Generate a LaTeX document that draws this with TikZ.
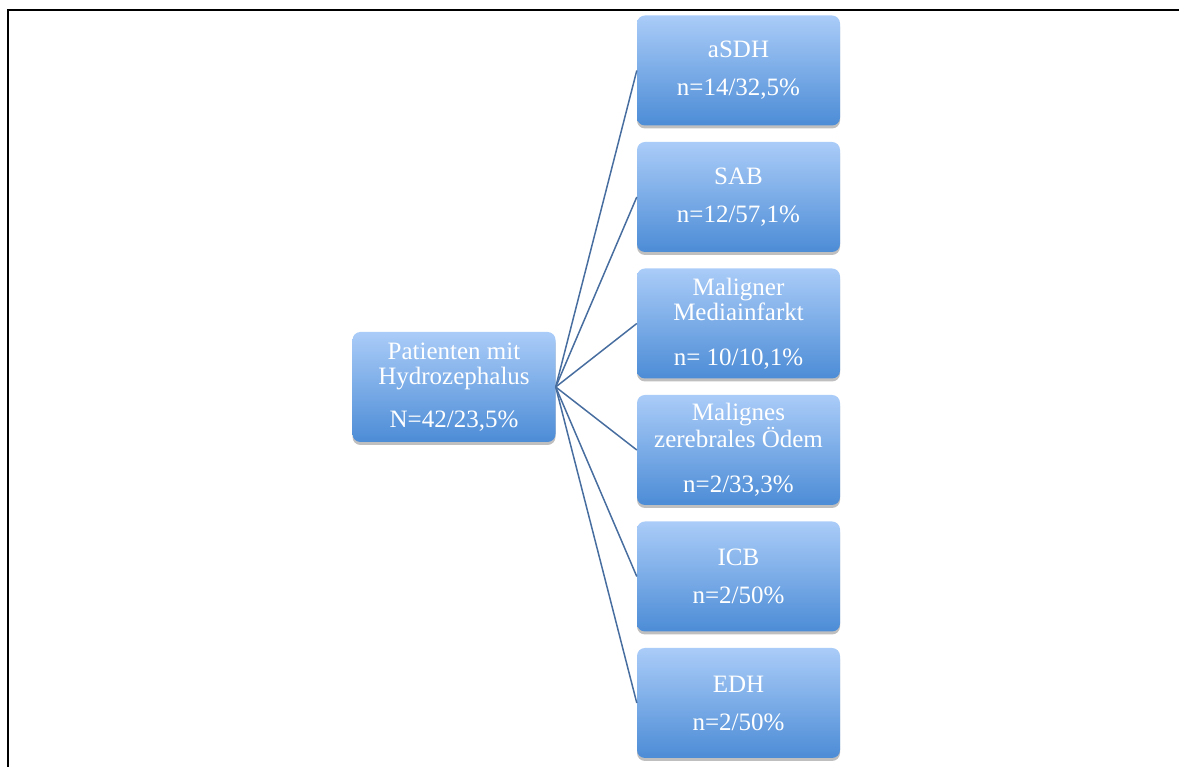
\documentclass[tikz,border=0pt]{standalone}
\usepackage{fontspec}
\setmainfont{Liberation Serif}
\usetikzlibrary{shadows}
\definecolor{boxtop}{RGB}{170,204,248}
\definecolor{boxbot}{RGB}{76,140,214}
\definecolor{linkc}{RGB}{72,110,160}
\tikzset{
  box/.style={rounded corners=8pt, minimum width=203pt, minimum height=110pt,
    top color=boxtop, bottom color=boxbot, text=white, align=center,
    inner sep=0pt,
    font=\fontsize{25}{25}\selectfont,
    drop shadow={shadow xshift=0pt, shadow yshift=-3pt, opacity=0.25, fill=black}},
  link/.style={draw=linkc, line width=1.5pt},
  frame/.style={line width=2pt, draw=black}
}
\begin{document}
\begin{tikzpicture}[x=1pt,y=1pt]
\useasboundingbox (0,0) rectangle (1179,767);
\coordinate (f0) at (8,0);
\coordinate (f1) at (8,757);
\coordinate (f2) at (1179,757);
\draw[frame] (f0) -- (f1) -- (f2);
\node[box] (c) at (454,380) {Patienten mit\\Hydrozephalus\\[18pt]N=42/23,5\%};
\node[box] (b1) at (738.5,696.5) {aSDH\\[13pt]n=14/32,5\%};
\node[box] (b2) at (738.5,570) {SAB\\[13pt]n=12/57,1\%};
\node[box] (b3) at (738.5,443.5) {Maligner\\Mediainfarkt\\[20pt]n= 10/10,1\%};
\node[box] (b4) at (738.5,317) {Malignes\\zerebrales Ödem\\[20pt]n=2/33,3\%};
\node[box] (b5) at (738.5,190.5) {ICB\\[13pt]n=2/50\%};
\node[box] (b6) at (738.5,64) {EDH\\[13pt]n=2/50\%};
\foreach \i in {1,...,6}{\draw[link] (c.east) -- (b\i.west);}
\end{tikzpicture}
\end{document}
